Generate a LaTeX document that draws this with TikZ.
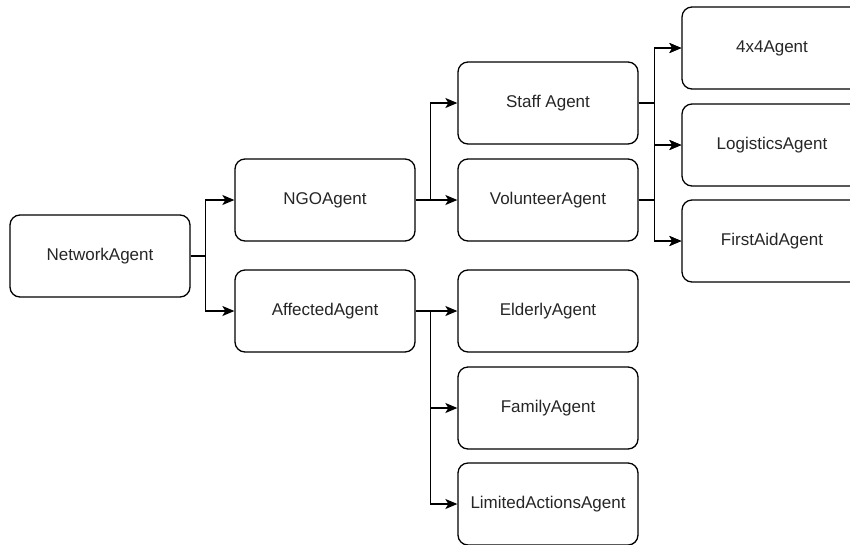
\documentclass[tikz,border=0pt]{standalone}
\usepackage{fontspec}
\setmainfont{Liberation Sans}
\usetikzlibrary{arrows.meta}

\tikzset{
  agent/.style={draw, fill=white, rounded corners=10pt, line width=1.3pt,
    minimum width=180pt, minimum height=82pt, inner sep=0pt,
    text=black!85, font=\fontsize{17}{20}\selectfont},
  link/.style={line width=1.3pt, -{Stealth[length=12pt,width=10pt,inset=3pt]}},
}

\begin{document}
\begin{tikzpicture}[x=1pt, y=-1pt]
\useasboundingbox (0,0) rectangle (850,544);

\node[agent] (net) at (100, 256) {NetworkAgent};
\node[agent] (ngo) at (325, 200) {NGOAgent};
\node[agent] (aff) at (325, 311) {AffectedAgent};
\node[agent] (staff) at (548, 103) {Staff Agent};
\node[agent] (vol) at (548, 200) {VolunteerAgent};
\node[agent] (eld) at (548, 311) {ElderlyAgent};
\node[agent] (fam) at (548, 408) {FamilyAgent};
\node[agent] (lim) at (548, 504) {LimitedActionsAgent};
\node[agent] (four) at (772, 48) {4x4Agent};
\node[agent] (log) at (772, 145) {LogisticsAgent};
\node[agent] (aid) at (772, 241) {FirstAidAgent};

\draw[link] (net.east) -- ++(15,0) |- (ngo.west);
\draw[link] (net.east) -- ++(15,0) |- (aff.west);
\draw[link] (ngo.east) -- ++(15,0) |- (staff.west);
\draw[link] (ngo.east) -- ++(15,0) |- (vol.west);
\draw[link] (aff.east) -- ++(15,0) |- (eld.west);
\draw[link] (aff.east) -- ++(15,0) |- (fam.west);
\draw[link] (aff.east) -- ++(15,0) |- (lim.west);
\draw[link] (staff.east) -- ++(16,0) |- (four.west);
\draw[link] (staff.east) -- ++(16,0) |- (log.west);
\draw[link] (staff.east) -- ++(16,0) |- (aid.west);
\draw[link] (vol.east) -- ++(16,0) |- (four.west);
\draw[link] (vol.east) -- ++(16,0) |- (log.west);
\draw[link] (vol.east) -- ++(16,0) |- (aid.west);

\end{tikzpicture}
\end{document}
